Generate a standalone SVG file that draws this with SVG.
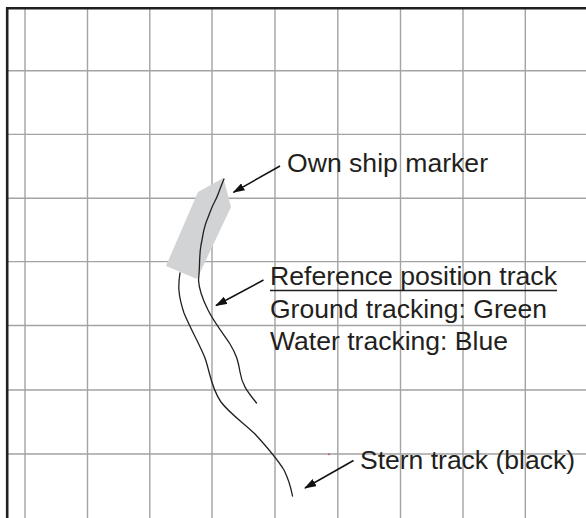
<svg xmlns="http://www.w3.org/2000/svg" width="586" height="518" viewBox="0 0 586 518">
<defs>
<style>
.grid{stroke:#a3a3a3;stroke-width:1.4;fill:none}
.border{stroke:#231f20;stroke-width:2.6;fill:none}
.track{stroke:#231f20;stroke-width:1.3;fill:none;stroke-linecap:round}
.lead{stroke:#111;stroke-width:1.5;fill:none}
.lbl{font-family:"Liberation Sans",Arial,sans-serif;font-size:26px;fill:#231f20}
</style>
<marker id="ah" viewBox="0 0 12 8" refX="11" refY="4" markerWidth="12" markerHeight="8" markerUnits="userSpaceOnUse" orient="auto">
<path d="M0,0 L12,4 L0,8 Z" fill="#111"/>
</marker>
</defs>
<rect width="586" height="518" fill="#fff"/>
<g id="grid" class="grid">
<path d="M25,8V518M87.5,8V518M149.8,8V518M212,8V518M275,8V518M337.8,8V518M400.5,8V518M463,8V518M525.3,8V518"/>
<path d="M7,70.7H586M7,134.4H586M7,198.3H586M7,261.6H586M7,325.5H586M7,390H586M7,454H586"/>
</g>
<path id="frame" class="border" d="M7.2,518V8.2H586"/>
<g id="ship">
<polygon points="198,192 223.5,178 231,207 197,279 166,266" fill="#d1d3d4"/>
</g>
<g id="tracks">
<path id="reference-track" class="track" d="M224,179 C220,188 218,196 215,201 C211,208 210,213 207,220 C203,230 203,236 201,245 C199,256 200,268 198.5,280 C199,290 203,300 208,310 C214,322 222,332 230,344 C236,354 238,360 240,372 C242,384 246,390 256.5,403"/>
<path id="stern-track" class="track" d="M180,273 C178,285 178,295 184,313 C191,330 199,343 205,358 C210,372 211,388 221,402 C230,414 244,423 255,434 C266,446 276,457 284,470 C289,480 291,488 292.5,496"/>
</g>
<g id="connectors">
<line class="lead" x1="280" y1="166" x2="233.5" y2="192.3" marker-end="url(#ah)"/>
<line class="lead" x1="263.5" y1="280" x2="216" y2="305.5" marker-end="url(#ah)"/>
<line class="lead" x1="353.5" y1="460.5" x2="305" y2="488" marker-end="url(#ah)"/>
</g>
<g id="label-own">
<text class="lbl" x="287" y="172" textLength="201" lengthAdjust="spacingAndGlyphs">Own ship marker</text>
</g>
<g id="label-reference">
<text class="lbl" x="270" y="284.5" textLength="287" lengthAdjust="spacingAndGlyphs">Reference position track</text>
<line x1="270" y1="290.5" x2="557" y2="290.5" stroke="#231f20" stroke-width="1.6"/>
<text class="lbl" x="270" y="318" textLength="277" lengthAdjust="spacingAndGlyphs">Ground tracking: Green</text>
<text class="lbl" x="270" y="349.5" textLength="238" lengthAdjust="spacingAndGlyphs">Water tracking: Blue</text>
</g>
<g id="label-stern">
<text class="lbl" x="360" y="468.5" textLength="215" lengthAdjust="spacingAndGlyphs">Stern track (black)</text>
</g>
<circle cx="329" cy="454.3" r="0.9" fill="#e8303a"/>
</svg>
